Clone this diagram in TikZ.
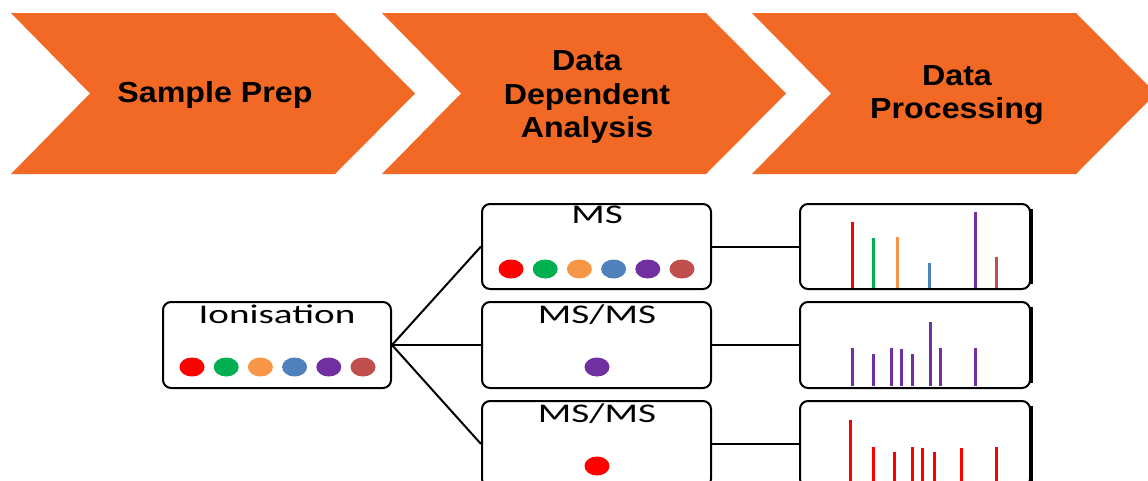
\documentclass[tikz,border=0pt]{standalone}
\usepackage{fontspec}
\setmainfont{Carlito}
\newfontfamily\headfont{Liberation Sans}[FakeStretch=1.11]
\newfontfamily\labfont{Carlito}[FakeStretch=1.45]
\definecolor{chev}{HTML}{F26825}
\definecolor{cRed}{HTML}{FF0000}
\definecolor{cGreen}{HTML}{00B050}
\definecolor{cOrange}{HTML}{F79646}
\definecolor{cBlue}{HTML}{4F81BD}
\definecolor{cPurple}{HTML}{7030A0}
\definecolor{cBrown}{HTML}{C0504D}
\tikzset{
  chevtext/.style={font=\headfont\bfseries\fontsize{29}{33.5}\selectfont, align=center, text=black, inner sep=0pt},
  boxlabel/.style={font=\labfont\fontsize{27}{30}\selectfont, anchor=base, inner sep=0pt},
  roundbox/.style={draw=black, line width=2pt, rounded corners=8pt, minimum width=229pt, minimum height=86pt, inner sep=0pt},
  specbox/.style={draw=black, line width=2pt, rounded corners=8pt, minimum width=230pt, minimum height=86pt, inner sep=0pt},
  link/.style={draw=black, line width=2pt},
  bar/.style={line width=3pt},
}
\newcommand{\chevron}[1]{%
  \fill[chev] (#1,13) -- (#1+324,13) -- (#1+404,93.5) -- (#1+324,174) -- (#1,174) -- (#1+79,93.5) -- cycle;}
\begin{document}
\begin{tikzpicture}[x=1pt,y=-1pt]
\useasboundingbox (0,0) rectangle (1148,480);
\clip (0,0) rectangle (1148,480);
\fill[white] (0,0) rectangle (1148,480);
% chevrons
\chevron{11}
\chevron{382}
\chevron{752}
\node[chevtext] (t1) at (215,94.5) {Sample Prep};
\node[chevtext] (t2) at (587,97.5) {Data\\Dependent\\Analysis};
\node[chevtext] (t3) at (957,95) {Data\\Processing};
% ionisation box
\node[roundbox, minimum width=228pt] (ion) at (277,345) {};
\node[boxlabel] (ionl) at (277,323) {Ionisation};
\foreach \c [count=\i from 0] in {cRed,cGreen,cOrange,cBlue,cPurple,cBrown}
  \fill[\c] (192+34.2*\i,367) ellipse (12.5 and 9.5);
% MS boxes
\node[roundbox, minimum height=85pt] (ms1) at (596.5,246.5) {};
\node[roundbox] (ms2) at (596.5,345) {};
\node[roundbox] (ms3) at (596.5,444) {};
\node[boxlabel] (ms1l) at (597,223) {MS};
\node[boxlabel] (ms2l) at (597,323) {MS/MS};
\node[boxlabel] (ms3l) at (597,422) {MS/MS};
\foreach \c [count=\i from 0] in {cRed,cGreen,cOrange,cBlue,cPurple,cBrown}
  \fill[\c] (511+34.2*\i,269) ellipse (12.5 and 9.5);
\fill[cPurple] (597,367) ellipse (12.5 and 9.5);
\fill[cRed] (597,466) ellipse (12.5 and 9.5);
% spectrum boxes
\node[specbox, minimum height=85pt] (sp1) at (915,246.5) {};
\node[specbox] (sp2) at (915,345) {};
\node[specbox] (sp3) at (915,444) {};
\foreach \s in {sp1,sp2,sp3}
  \draw[line width=3pt] ([xshift=0.5pt,yshift=-6pt]\s.north east) -- ([xshift=0.5pt,yshift=6pt]\s.south east);
% connectors
\draw[link] (ion.east) -- (ms1.west);
\draw[link] (ion.east) -- (ms2.west);
\draw[link] (ion.east) -- (ms3.west);
\draw[link] (ms1.east) -- (sp1.west);
\draw[link] (ms2.east) -- (sp2.west);
\draw[link] (ms3.east) -- (sp3.west);
% spectrum 1
\foreach \x/\t/\c in {852/222/cRed, 873/238/cGreen, 897/237/cOrange, 929/263/cBlue, 975/212/cPurple, 996/257/cBrown}
  \draw[bar,\c] (\x,288) -- (\x,\t);
% spectrum 2
\foreach \x/\t in {852/348, 873/354, 891/348, 901/349, 912/354, 930/322, 940/348, 975/348}
  \draw[bar,cPurple] (\x,386) -- (\x,\t);
% spectrum 3
\foreach \x/\t in {850/420, 873/447, 894/452, 912/447, 922/448, 934/452, 961/448, 996/447}
  \draw[bar,cRed] (\x,486) -- (\x,\t);
\end{tikzpicture}
\end{document}
